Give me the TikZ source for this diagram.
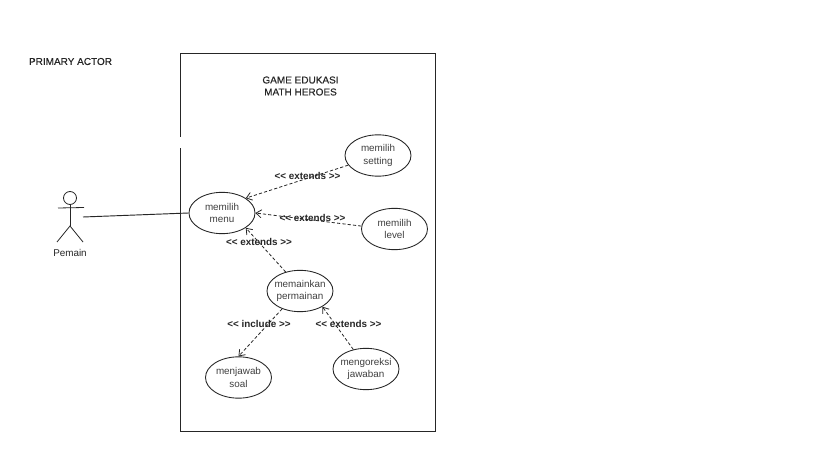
\documentclass[tikz,border=0pt]{standalone}
\usepackage{fontspec}
\setmainfont{Liberation Sans}
\newfontfamily\semib[FakeBold=0.35]{Liberation Sans}
\usetikzlibrary{arrows.meta,shapes.geometric}
\tikzset{
  x=0.75pt,y=-0.75pt,
  usecase/.style={draw=black!85,line width=0.65pt,ellipse,minimum width=49.5pt,minimum height=31pt,inner xsep=-8pt,inner ysep=-4pt,align=center,font=\fontsize{7.4}{9.3}\selectfont,text=black!75},
  dep/.style={draw=black!85,line width=0.6pt,dash pattern=on 2.4pt off 1.6pt,-{Straight Barb[length=4pt,width=6pt]}},
  deplabel/.style={font=\bfseries\fontsize{7.4}{9}\selectfont,text=black!85,inner sep=0pt},
  plain/.style={font=\fontsize{7.4}{9.3}\selectfont,align=center,text=black!85,inner sep=0pt},
  heading/.style={font=\semib\fontsize{7.5}{9}\selectfont,align=center,text=black!85,inner sep=0pt},
  stick/.style={draw=black!85,line width=0.6pt}
}
\begin{document}
\begin{tikzpicture}
\useasboundingbox[fill=white] (0,0) rectangle (819,460);
% system boundary, with its gap
\draw[black!85,line width=0.65pt] (180,137) -- (180,53) -- (435,53) -- (435,431) -- (180,431) -- (180,148);
\node[heading] (primary) at (70.5,61.5) {PRIMARY ACTOR};
\node[heading] (title) at (300.5,86) {GAME EDUKASI\\MATH HEROES};
% actor
\coordinate (head) at (70,198);
\coordinate (hip) at (70,226);
\coordinate (armL) at (58,208);
\coordinate (armR) at (84,207.5);
\coordinate (legL) at (57,242);
\coordinate (legR) at (83,242);
\coordinate (actorhand) at (83,217);
\draw[stick] (head) circle (6.5);
\draw[stick] (70,204.5) -- (hip);
\draw[stick] (armL) -- (armR);
\draw[stick] (legL) -- (hip) -- (legR);
\node[plain] (pemain) at (70,253) {Pemain};
% use cases
\node[usecase] (menu) at (222,213) {memilih\\menu};
\node[usecase] (setting) at (378,155.5) {memilih\\setting};
\node[usecase] (level) at (394.5,229) {memilih\\level};
\node[usecase] (main) at (300,291) {memainkan\\permainan};
\node[usecase] (soal) at (238.5,377.5) {menjawab\\soal};
\node[usecase] (koreksi) at (366,369) {mengoreksi\\jawaban};
% connectors
\draw[black!85,line width=0.7pt] (actorhand) -- (menu.west);
\draw[dep] (setting.198) -- (menu.32);
\draw[dep] (level.175) -- (menu.east);
\draw[dep] (main.127) -- (menu.-32);
\draw[dep] (main.225) -- (soal.90);
\draw[dep] (koreksi.123) -- (main.-35);
% labels
\node[deplabel] (l1) at (307.5,176) {{<}{<} extends {>}{>}};
\node[deplabel] (l2) at (312.5,217.5) {{<}{<} extends {>}{>}};
\node[deplabel] (l3) at (259,242) {{<}{<} extends {>}{>}};
\node[deplabel] (l4) at (259,324) {{<}{<} include {>}{>}};
\node[deplabel] (l5) at (348.5,324) {{<}{<} extends {>}{>}};
\end{tikzpicture}
\end{document}
